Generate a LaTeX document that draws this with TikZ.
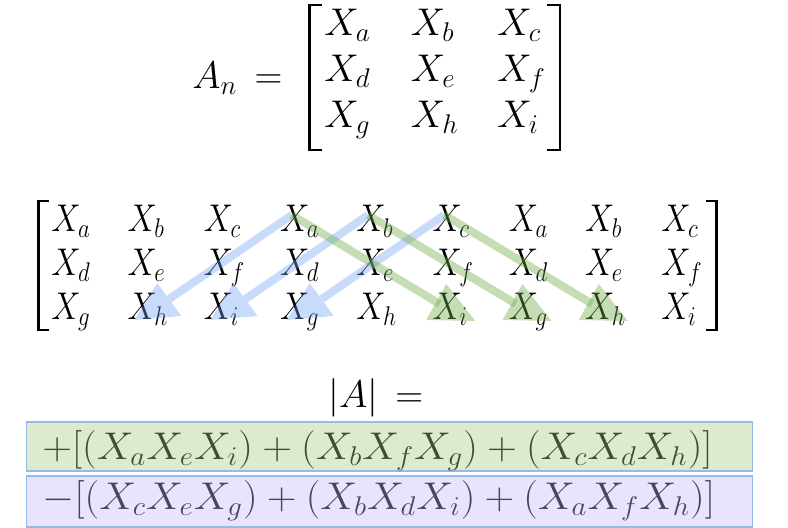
\RequirePackage{fix-cm}
\documentclass[tikz,border=0pt]{standalone}
\usepackage{amsmath}

\definecolor{plusfill}{RGB}{221,234,206}
\definecolor{minusfill}{RGB}{233,227,251}
\definecolor{boxline}{RGB}{150,186,232}
\definecolor{plustext}{RGB}{62,78,46}
\definecolor{minustext}{RGB}{75,68,96}
\definecolor{arrowblue}{RGB}{110,160,245}
\definecolor{arrowgreen}{RGB}{110,170,70}

\newcommand{\detfont}{\fontsize{19.3}{23.2}\selectfont}

\begin{document}
\begin{tikzpicture}[x=0.5pt, y=-0.5pt, line join=miter,
    entry/.style={inner sep=0pt, anchor=base west, font=\detfont},
    bracket/.style={line width=1.35pt},
    blueshaft/.style={draw=arrowblue, draw opacity=0.38, line width=4pt},
    greenshaft/.style={draw=arrowgreen, draw opacity=0.4, line width=4pt},
    bluehead/.style={fill=arrowblue, fill opacity=0.38},
    greenhead/.style={fill=arrowgreen, fill opacity=0.4},
    sumbox/.style={anchor=base west, xscale=1.07, draw=boxline, line width=0.6pt, inner xsep=7.3pt,
        inner ysep=0pt, text width=324.7pt, align=left, font=\detfont}]

                \useasboundingbox (0,0) rectangle (788,528);

                \node[entry] (lhs) at (192,89) {$A_n\,=$};
                \foreach \letters [count=\r] in {{a,b,c},{d,e,f},{g,h,i}} {
                    \foreach \l [count=\c] in \letters {
                        \node[entry] (t-\r-\c) at ({324+86.5*(\c-1)}, {36+46*(\r-1)}) {$X_\l$};
                    }
                }
                \draw[bracket] (322,5) -- (309.5,5) -- (309.5,150) -- (322,150);
                \draw[bracket] (547,5) -- (560,5) -- (560,150) -- (547,150);

                \foreach \letters [count=\r] in {{a,b,c,a,b,c,a,b,c},{d,e,f,d,e,f,d,e,f},{g,h,i,g,h,i,g,h,i}} {
                    \foreach \l [count=\c] in \letters {
                        \node[entry, xscale=0.85] (m-\r-\c) at ({51+76.25*(\c-1)}, {232+44*(\r-1)}) {$X_\l$};
                    }
                }
                \draw[bracket] (49,201) -- (38.3,201) -- (38.3,330) -- (49,330);
                \draw[bracket] (706,201) -- (716.5,201) -- (716.5,330) -- (706,330);

                \foreach \s/\e in {4/2,5/3,6/4} {
                    \draw[blueshaft] ([shift={(12,-17)}]m-1-\s.base west) -- ([shift={(42,-21)}]m-3-\e.base west);
                    \fill[bluehead] ([shift={(30,-37)}]m-3-\e.base west) -- ([shift={(7,0)}]m-3-\e.base west)
                        -- ([shift={(54,-4)}]m-3-\e.base west) -- cycle;
                }
                \foreach \s/\e in {4/6,5/7,6/8} {
                    \draw[greenshaft] ([shift={(12,-17)}]m-1-\s.base west) -- ([shift={(7.5,-16)}]m-3-\e.base west);
                    \fill[greenhead] ([shift={(14,-36)}]m-3-\e.base west) -- ([shift={(-6,0)}]m-3-\e.base west)
                        -- ([shift={(43,1)}]m-3-\e.base west) -- cycle;
                }

                \node[entry] (det) at (328,408) {$|A|\,=$};
                \node[sumbox, fill=plusfill, text=plustext, text height=19pt, text depth=5.5pt] (plus) at (26,460)
                    {$+[(X_aX_eX_i)+(X_bX_fX_g)+(X_cX_dX_h)]$};
                \node[sumbox, fill=minusfill, text=minustext, text height=17pt, text depth=8.5pt] (minus) at (26,510)
                    {$-[(X_cX_eX_g)+(X_bX_dX_i)+(X_aX_fX_h)]$};

            \end{tikzpicture}
\end{document}
